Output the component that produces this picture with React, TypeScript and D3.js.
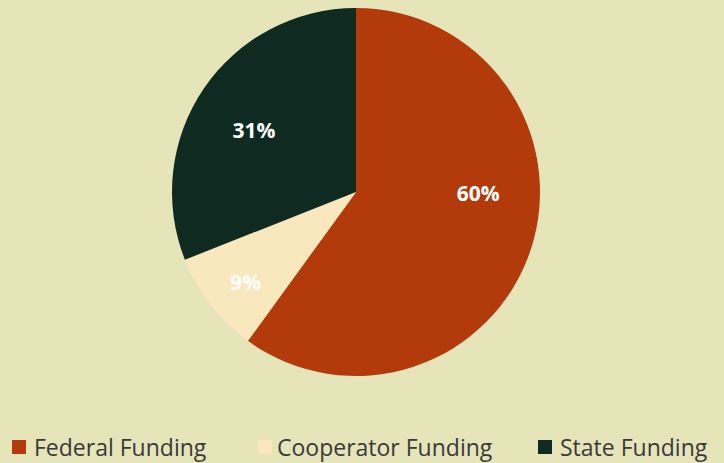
import React, { useEffect, useRef } from 'react';
import * as d3 from 'd3';

const categories = ['Federal Funding', 'Cooperator Funding', 'State Funding'];
const shares = [60, 9, 31];
const colors = ['#b33b0b', '#f9e8bd', '#0e2a21'];

const W = 724;
const H = 463;

export default function App() {
  const svgRef = useRef<SVGSVGElement>(null);

  useEffect(() => {
    if (!svgRef.current) return;
    const svg = d3.select(svgRef.current);
    svg.selectAll('*').remove();

    svg.append('rect').attr('width', W).attr('height', H).attr('fill', '#e6e4b9');

    const cx = 356, cy = 192, r = 184;
    const pie = d3.pie<number>().sort(null).value(d => d);
    const arcs = pie(shares);
    const arc = d3.arc<d3.PieArcDatum<number>>().innerRadius(0).outerRadius(r);
    const labelArc = d3.arc<d3.PieArcDatum<number>>().innerRadius(r * 0.67).outerRadius(r * 0.67);
    // small nudges from the centroid, the way the original placed them
    const nudge = [[5, -36], [-13, 15], [0, 8]];

    const g = svg.append('g').attr('transform', `translate(${cx},${cy})`);

    g.selectAll('path.slice')
      .data(arcs)
      .enter().append('path')
      .attr('class', 'slice')
      .attr('d', arc)
      .attr('fill', (_, i) => colors[i]);

    g.selectAll('text.pct')
      .data(arcs)
      .enter().append('text')
      .attr('class', 'pct')
      .attr('transform', (d, i) => {
        const [x, y] = labelArc.centroid(d);
        return `translate(${x + nudge[i][0]},${y + nudge[i][1]})`;
      })
      .attr('text-anchor', 'middle')
      .attr('dy', '0.35em')
      .style('font-family', "'Open Sans', sans-serif")
      .style('font-weight', 'bold')
      .style('font-size', '21px')
      .style('fill', '#ffffff')
      .text(d => `${d.data}%`);

    // legend
    const legendX = [12, 258, 538];
    const leg = svg.append('g');
    categories.forEach((c, i) => {
      leg.append('rect')
        .attr('x', legendX[i]).attr('y', 440)
        .attr('width', 14).attr('height', 14)
        .attr('fill', colors[i]);
      leg.append('text')
        .attr('x', legendX[i] + (i === 1 ? 19 : 22)).attr('y', 456)
        .style('font-family', "'Open Sans', sans-serif")
        .style('font-size', '23px')
        .style('fill', '#3a3a3a')
        .text(c);
    });
  }, []);

  return (
    <div style={{ position: 'absolute', left: 0, top: 0 }}>
      <svg ref={svgRef} width={W} height={H} style={{ display: 'block' }} />
    </div>
  );
}
